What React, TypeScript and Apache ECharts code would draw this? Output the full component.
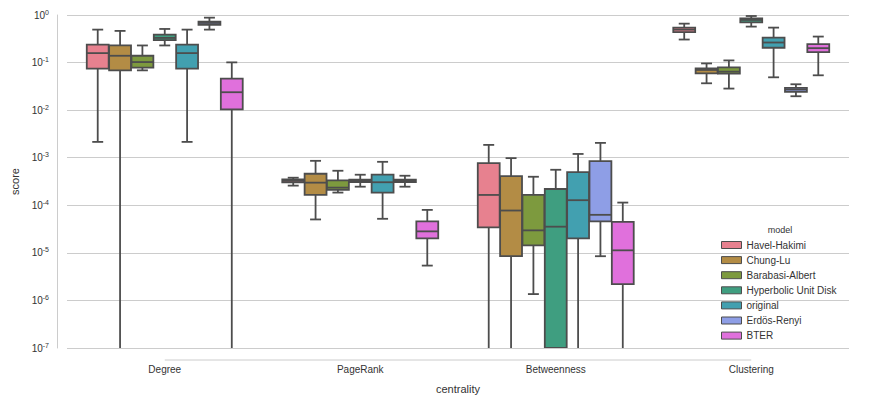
import React, { useEffect, useRef } from "react";
import * as echarts from "echarts";

const categories = ["Degree", "PageRank", "Betweenness", "Clustering"];
const models = [
  "Havel-Hakimi",
  "Chung-Lu",
  "Barabasi-Albert",
  "Hyperbolic Unit Disk",
  "original",
  "Erdös-Renyi",
  "BTER",
];
const modelColors = ["#e7818f", "#b38c45", "#7d9a3e", "#3f9e80", "#42a0b0", "#8e9ee6", "#e070dc"];

// Log-scale ticks (exponents of 10)
const yTickExponents = [-7, -6, -5, -4, -3, -2, -1, 0];
const Y_MIN = 1e-7;
const Y_MAX = 1;
const ZERO = 1e-9; // whisker reaching zero (below the axis)

// Each entry: [min, Q1, median, Q3, max] for Degree, PageRank, Betweenness, Clustering
const havelHakimi = [
  [0.00215, 0.0745, 0.158, 0.239, 0.493],
  [2.59e-4, 3.05e-4, 3.29e-4, 3.52e-4, 3.8e-4],
  [ZERO, 3.43e-5, 1.65e-4, 7.7e-4, 1.86e-3],
  [0.305, 0.435, 0.493, 0.543, 0.658],
];
const chungLu = [
  [ZERO, 0.0686, 0.139, 0.229, 0.463],
  [5.04e-5, 1.65e-4, 2.99e-4, 4.6e-4, 8.6e-4],
  [ZERO, 8.5e-6, 7.76e-5, 4.12e-4, 9.8e-4],
  [0.0367, 0.0594, 0.07, 0.0755, 0.096],
];
const barabasiAlbert = [
  [0.0686, 0.078, 0.1025, 0.139, 0.229],
  [1.85e-4, 2.1e-4, 2.35e-4, 3.35e-4, 5.32e-4],
  [1.36e-6, 1.44e-5, 2.97e-5, 1.65e-4, 3.98e-4],
  [0.0284, 0.0585, 0.0644, 0.0792, 0.111],
];
const hyperbolicUnitDisk = [
  [0.229, 0.296, 0.33, 0.388, 0.509],
  [2.46e-4, 3.09e-4, 3.29e-4, 3.45e-4, 4.39e-4],
  [ZERO, ZERO, 3.55e-5, 2.2e-4, 5.58e-4],
  [0.57, 0.703, 0.787, 0.853, 0.953],
];
const original = [
  [0.00215, 0.0745, 0.158, 0.239, 0.493],
  [5.2e-5, 1.85e-4, 3.05e-4, 4.39e-4, 8.2e-4],
  [ZERO, 2.02e-5, 1.28e-4, 5.0e-4, 1.2e-3],
  [0.049, 0.205, 0.264, 0.336, 0.543],
];
const erdosRenyi = [
  [0.493, 0.618, 0.68, 0.725, 0.879],
  [2.46e-4, 3.09e-4, 3.29e-4, 3.45e-4, 4.18e-4],
  [8.5e-6, 4.57e-5, 6.3e-5, 8.5e-4, 2.05e-3],
  [0.0196, 0.0243, 0.0271, 0.0294, 0.035],
];
const bter = [
  [ZERO, 0.01035, 0.0238, 0.046, 0.101],
  [5.4e-6, 2.02e-5, 2.83e-5, 4.57e-5, 8.0e-5],
  [ZERO, 2.2e-6, 1.13e-5, 4.5e-5, 1.14e-4],
  [0.054, 0.166, 0.201, 0.244, 0.352],
];
const modelData = [havelHakimi, chungLu, barabasiAlbert, hyperbolicUnitDisk, original, erdosRenyi, bter];

const LINE = "#4d4d4d";
const FONT = "Liberation Sans, Arial, sans-serif";

function makeRenderItem(hue: number, color: string) {
  return (params: any, api: any) => {
    const cat = api.value(0);
    const clampV = (v: number) => Math.min(Math.max(v, Y_MIN), Y_MAX);
    const vals = [api.value(1), api.value(2), api.value(3), api.value(4), api.value(5)];
    const band = api.coord([1, 1])[0] - api.coord([0, 1])[0];
    const slot = (band * 0.8) / models.length;
    const w = slot * 0.98;
    const cx = api.coord([cat, 1])[0] + (hue - (models.length - 1) / 2) * slot;
    const y = vals.map((v: number) => api.coord([cat, clampV(v)])[1]);
    const [yMin, yQ1, yMed, yQ3, yMax] = y;
    const lineStyle = { stroke: LINE, lineWidth: 1.8, fill: null };
    const children: any[] = [
      { type: "line", shape: { x1: cx, y1: yQ1, x2: cx, y2: yMin }, style: lineStyle },
      { type: "line", shape: { x1: cx, y1: yQ3, x2: cx, y2: yMax }, style: lineStyle },
    ];
    if (vals[0] >= Y_MIN) {
      children.push({ type: "line", shape: { x1: cx - w / 4, y1: yMin, x2: cx + w / 4, y2: yMin }, style: lineStyle });
    }
    if (vals[4] <= Y_MAX) {
      children.push({ type: "line", shape: { x1: cx - w / 4, y1: yMax, x2: cx + w / 4, y2: yMax }, style: lineStyle });
    }
    children.push({
      type: "rect",
      shape: { x: cx - w / 2, y: yQ3, width: w, height: yQ1 - yQ3 },
      style: { fill: color, stroke: LINE, lineWidth: 1.8 },
    });
    children.push({ type: "line", shape: { x1: cx - w / 2, y1: yMed, x2: cx + w / 2, y2: yMed }, style: lineStyle });
    return { type: "group", children };
  };
}

export default function App() {
  const ref = useRef<HTMLDivElement>(null);
  useEffect(() => {
    if (!ref.current) return;
    const chart = echarts.init(ref.current, null, { renderer: "svg" });
    const series = models.map((m, hue) => ({
      type: "custom",
      name: m,
      clip: true,
      itemStyle: { color: modelColors[hue], borderColor: LINE, borderWidth: 1 },
      renderItem: makeRenderItem(hue, modelColors[hue]),
      encode: { x: 0, y: [1, 2, 3, 4, 5] },
      data: modelData[hue].map((d, ci) => [ci, ...d]),
    }));
    chart.setOption({
      animation: false,
      textStyle: { fontFamily: FONT },
      grid: { left: 67, right: 22, top: 15, bottom: 49, containLabel: false },
      legend: {
        orient: "vertical",
        left: 721,
        top: 240,
        padding: 0,
        icon: "rect",
        itemWidth: 20,
        itemHeight: 7,
        itemGap: 5.1,
        textStyle: { fontSize: 10, color: "#333", fontFamily: FONT },
        data: models.map((m, i) => ({
          name: m,
          itemStyle: { color: modelColors[i], borderColor: LINE, borderWidth: 1 },
        })),
      },
      xAxis: {
        type: "category",
        data: categories,
        offset: 10,
        axisLine: { show: false },
        axisTick: { show: false },
        axisLabel: { fontSize: 10, color: "#333", margin: 6 },
        name: "centrality",
        nameLocation: "middle",
        nameGap: 25,
        nameTextStyle: { fontSize: 11, color: "#333" },
        splitLine: { show: false },
      },
      yAxis: {
        type: "log",
        logBase: 10,
        min: Y_MIN,
        max: Y_MAX,
        interval: 1,
        offset: 10,
        axisLine: { show: true, lineStyle: { color: "#cccccc", width: 1 } },
        axisTick: { show: false },
        splitLine: { show: true, lineStyle: { color: "#cccccc", width: 1 } },
        axisLabel: {
          margin: 8,
          color: "#333",
          formatter: (v: number) => {
            const e = Math.round(Math.log10(v));
            return yTickExponents.includes(e) ? `{b|10}{s|${e}}` : "";
          },
          rich: {
            b: { fontSize: 10, color: "#333", fontFamily: FONT },
            s: { fontSize: 7, color: "#333", fontFamily: FONT, padding: [0, 0, 6, 0] },
          },
        },
        name: "score",
        nameLocation: "middle",
        nameGap: 37,
        nameTextStyle: { fontSize: 11, color: "#333" },
      },
      series,
    });
    const x0 = chart.convertToPixel({ xAxisIndex: 0 }, categories[0]) as number;
    const x1 = chart.convertToPixel({ xAxisIndex: 0 }, categories[categories.length - 1]) as number;
    const yLine = 399 - 49 + 10;
    chart.setOption({
      graphic: [
        {
          type: "line",
          shape: { x1: x0, y1: yLine, x2: x1, y2: yLine },
          style: { stroke: "#cccccc", lineWidth: 1 },
          silent: true,
        },
        {
          type: "text",
          x: 780,
          y: 230,
          style: { text: "model", fontSize: 9, fill: "#333", fontFamily: FONT, align: "center", verticalAlign: "middle" },
        },
      ],
    });
    return () => chart.dispose();
  }, []);
  return <div ref={ref} style={{ width: 871, height: 399, position: "absolute", left: 0, top: 0 }} />;
}
